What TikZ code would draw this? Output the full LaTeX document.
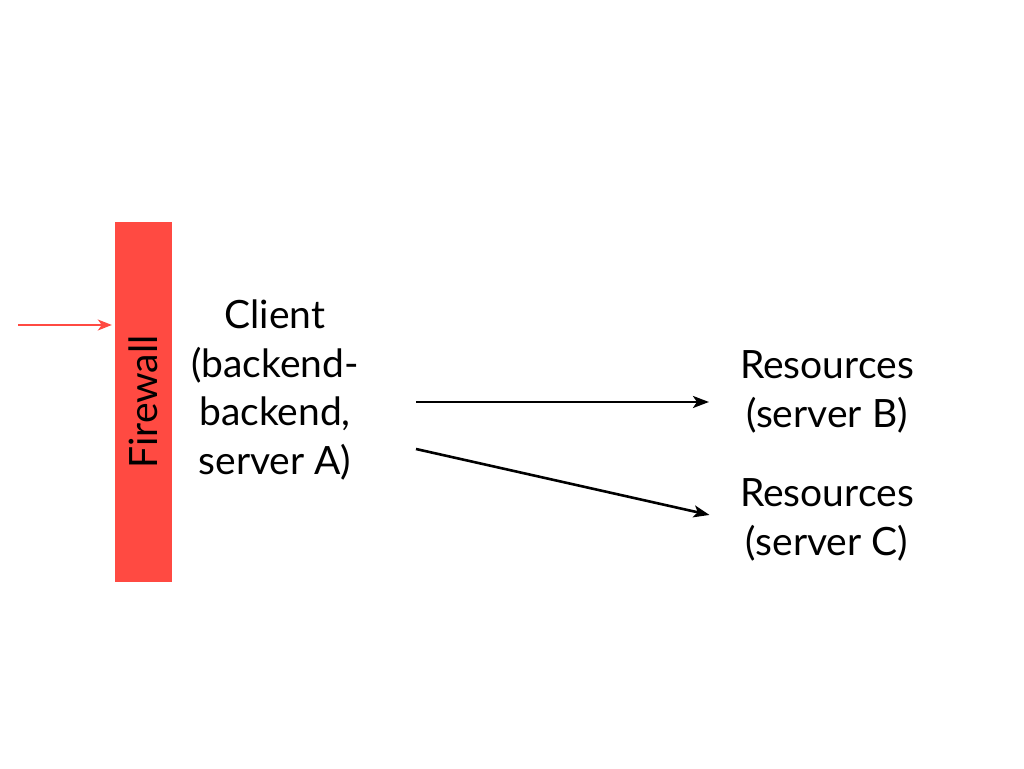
\documentclass[tikz,border=0pt]{standalone}
\usepackage{fontspec}
\setmainfont{Lato}
\usetikzlibrary{arrows.meta}

\definecolor{fwred}{RGB}{255,74,66}

\begin{document}
\begin{tikzpicture}[x=1pt, y=1pt,
  label/.style={align=center, inner sep=8pt, font={\fontsize{39}{48.5}\selectfont}},
  link/.style={line width=2.6pt, -{Stealth[length=16pt, width=12pt, inset=4pt]}}]

\useasboundingbox (0,0) rectangle (1024,768);


\node [fill=fwred, rotate=90, minimum width=360pt, minimum height=57pt, inner sep=0pt,
font={\fontsize{39}{39}\selectfont}] (firewall) at (143.5, 366) {Firewall};

\coordinate (inlet) at (18, 443);
\draw [fwred, line width=2pt, -{Stealth[length=14pt, width=11pt, inset=4pt]}, shorten >=3pt]
(inlet) -- (inlet -| firewall.north);


\node [label] (client) at (275, 378) {Client\\(backend-\\backend,\\server A)};

\node [label] (resB) at (827, 376) {Resources\\(server B)};

\node [label] (resC) at (827, 248) {Resources\\(server C)};


\coordinate (outB) at (416, 366);
\coordinate (outC) at (416, 319);

\draw [link, shorten >=23pt] (outB) -- (outB -| resB.west);
\draw [link, shorten >=23pt] (outC) -- (resC.west);

\end{tikzpicture}
\end{document}
